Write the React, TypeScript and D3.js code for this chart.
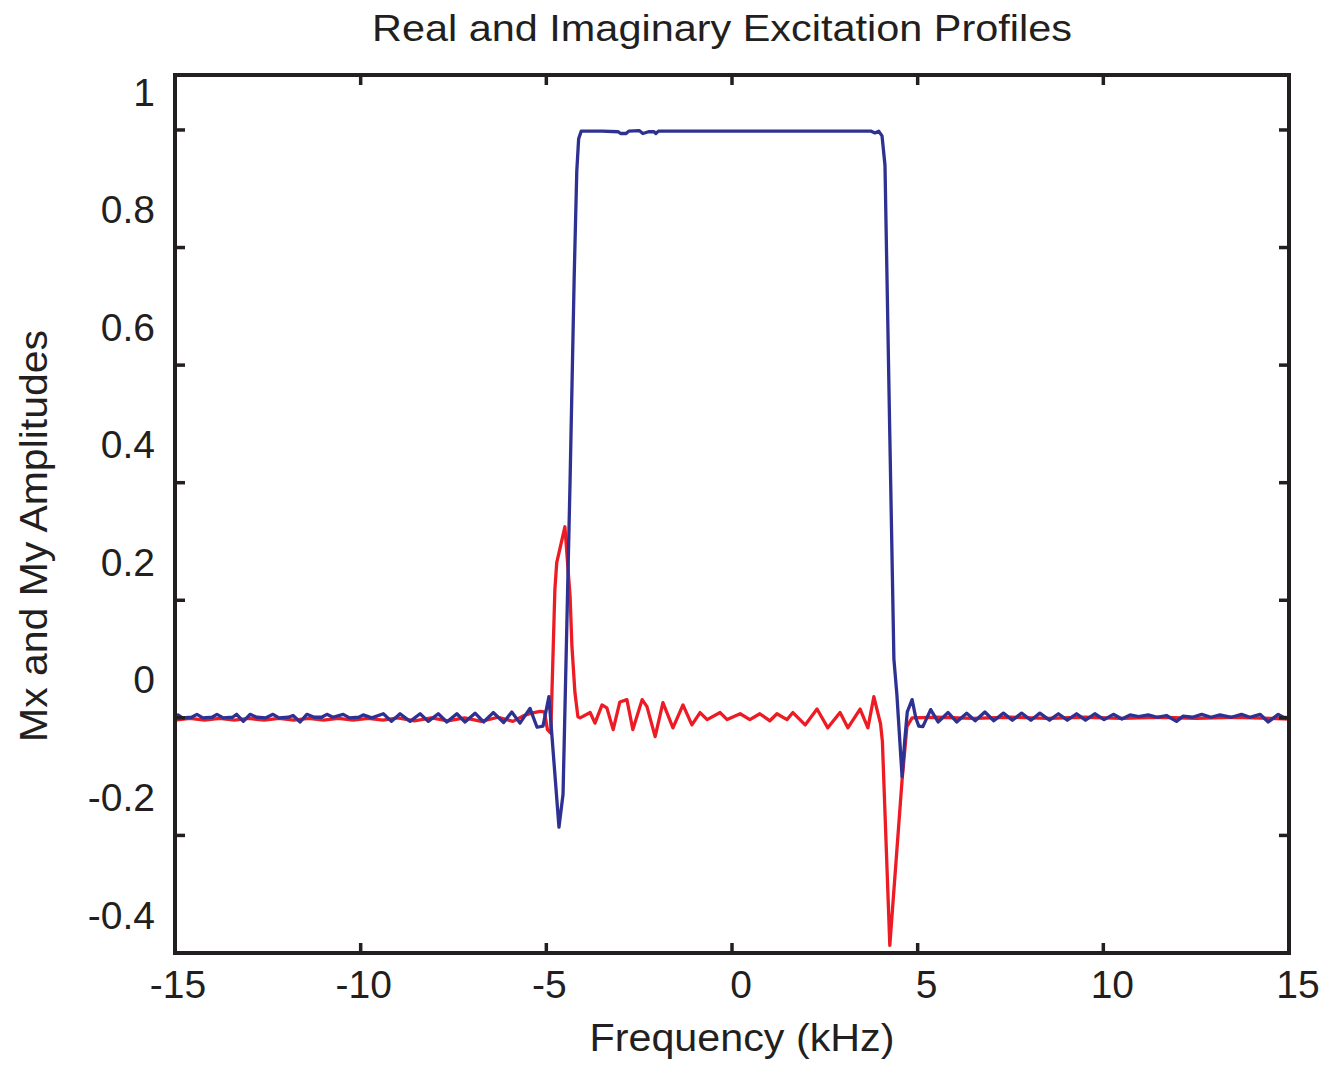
import React from 'react';
import * as d3 from 'd3';

// frequency axis (kHz) and amplitude axis tick values
const xTicks = [-15, -10, -5, 0, 5, 10, 15];
const yTicks = [-0.4, -0.2, 0, 0.2, 0.4, 0.6, 0.8, 1];

// blue trace: real part (Mx), [frequency kHz, amplitude]
const realProfile: [number, number][] = [
  [-15.0, 0.002], [-14.92, 0.005], [-14.8, 0.0], [-14.55, 0.001], [-14.41, 0.006],
  [-14.25, 0.0], [-14.0, 0.001], [-13.87, 0.006], [-13.7, 0.0], [-13.45, 0.001],
  [-13.34, 0.006], [-13.16, -0.006], [-12.98, 0.006], [-12.8, 0.001], [-12.55, 0.0],
  [-12.36, 0.006], [-12.2, 0.0], [-11.95, 0.001], [-11.82, 0.004], [-11.63, -0.007],
  [-11.45, 0.006], [-11.25, 0.001], [-11.05, 0.001], [-10.91, 0.006], [-10.75, 0.001],
  [-10.47, 0.006], [-10.3, 0.0], [-10.05, 0.001], [-9.93, 0.005], [-9.7, 0.0],
  [-9.39, 0.007], [-9.17, -0.006], [-8.94, 0.007], [-8.67, -0.006], [-8.4, 0.007],
  [-8.18, -0.006], [-7.91, 0.007], [-7.68, -0.007], [-7.41, 0.007], [-7.19, -0.007],
  [-6.92, 0.008], [-6.69, -0.007], [-6.43, 0.009], [-6.15, -0.008], [-5.93, 0.01],
  [-5.71, -0.009], [-5.44, 0.016], [-5.25, -0.016], [-5.09, -0.014], [-4.93, 0.036],
  [-4.66, -0.186], [-4.55, -0.13], [-4.36, 0.405], [-4.25, 0.75], [-4.18, 0.93],
  [-4.13, 0.985], [-4.06, 0.998], [-3.5, 0.998], [-3.07, 0.997], [-3.0, 0.994],
  [-2.85, 0.994], [-2.78, 0.998], [-2.5, 0.999], [-2.4, 0.994], [-2.25, 0.997],
  [-2.1, 0.997], [-2.05, 0.994], [-1.98, 0.998], [3.75, 0.998], [3.85, 0.995],
  [3.95, 0.998], [4.04, 0.99], [4.12, 0.94], [4.25, 0.48], [4.36, 0.1],
  [4.44, 0.04], [4.52, -0.04], [4.58, -0.1], [4.65, -0.04], [4.72, 0.01],
  [4.85, 0.031], [4.95, 0.0], [5.03, -0.014], [5.14, -0.015], [5.35, 0.014],
  [5.55, -0.007], [5.82, 0.009], [6.05, -0.007], [6.32, 0.008], [6.55, -0.005],
  [6.81, 0.01], [7.05, -0.005], [7.31, 0.008], [7.55, -0.004], [7.8, 0.008],
  [8.05, -0.004], [8.29, 0.008], [8.55, -0.004], [8.79, 0.007], [9.03, -0.004],
  [9.28, 0.007], [9.52, -0.004], [9.77, 0.007], [10.02, -0.003], [10.27, 0.006],
  [10.5, -0.002], [10.72, 0.005], [10.95, 0.002], [11.21, 0.005], [11.45, 0.001],
  [11.7, 0.004], [11.97, -0.006], [12.15, 0.003], [12.4, 0.001], [12.65, 0.006],
  [12.9, 0.001], [13.14, 0.005], [13.45, 0.001], [13.72, 0.006], [13.95, 0.001],
  [14.22, 0.006], [14.44, -0.007], [14.71, 0.006], [14.85, 0.001], [15.0, 0.0],
];

// red trace: imaginary part (My)
const imagProfile: [number, number][] = [
  [-15.0, -0.004], [-14.6, -0.001], [-14.2, -0.004], [-13.8, -0.001], [-13.4, -0.004],
  [-13.0, -0.001], [-12.6, -0.004], [-12.2, -0.001], [-11.8, -0.004], [-11.4, -0.001],
  [-11.0, -0.004], [-10.6, -0.001], [-10.2, -0.004], [-9.8, -0.001], [-9.4, -0.004],
  [-9.0, 0.0], [-8.55, -0.005], [-8.1, 0.0], [-7.65, -0.005], [-7.2, 0.0],
  [-6.75, -0.006], [-6.3, 0.001], [-5.9, -0.006], [-5.6, 0.004], [-5.4, 0.008],
  [-5.17, 0.011], [-5.05, 0.01], [-4.97, -0.02], [-4.88, -0.026], [-4.77, 0.218],
  [-4.72, 0.264], [-4.5, 0.325], [-4.36, 0.206], [-4.31, 0.121], [-4.23, 0.043],
  [-4.15, 0.002], [-4.09, 0.0], [-3.82, 0.009], [-3.69, -0.009], [-3.5, 0.022],
  [-3.37, 0.017], [-3.2, -0.02], [-3.02, 0.027], [-2.83, 0.031], [-2.67, -0.02],
  [-2.42, 0.031], [-2.29, 0.019], [-2.07, -0.032], [-1.86, 0.026], [-1.59, -0.017],
  [-1.32, 0.022], [-1.08, -0.012], [-0.86, 0.009], [-0.67, -0.003], [-0.32, 0.009],
  [-0.13, -0.003], [0.22, 0.007], [0.48, -0.003], [0.75, 0.007], [1.02, -0.005],
  [1.21, 0.007], [1.48, -0.003], [1.64, 0.009], [1.97, -0.012], [2.29, 0.015],
  [2.58, -0.017], [2.91, 0.009], [3.12, -0.017], [3.45, 0.015], [3.66, -0.017],
  [3.82, 0.036], [3.92, 0.01], [4.0, -0.01], [4.05, -0.04], [4.25, -0.387],
  [4.58, -0.106], [4.71, -0.015], [4.85, 0.0], [5.5, 0.001], [6.5, -0.001],
  [7.5, 0.001], [8.5, -0.001], [9.5, 0.001], [10.5, -0.001], [11.5, 0.001],
  [12.5, -0.001], [13.5, 0.001], [14.5, -0.001], [15.0, -0.002],
];

const W = 1344;
const H = 1065;
const plot = { left: 175, right: 1289, top: 75, bottom: 953 };
const ink = '#231f20';
const font = '"Liberation Sans", Arial, Helvetica, sans-serif';

export default function App() {
  const x = d3.scaleLinear().domain([-15, 15]).range([plot.left, plot.right]);
  const y = d3.scaleLinear().domain([-0.4, 1.0935]).range([plot.bottom, plot.top]);

  const line = d3.line<[number, number]>()
    .x(d => x(d[0]))
    .y(d => y(d[1]));

  const tickLen = 10;
  const fmt = (v: number) => String(Math.round(v * 10) / 10);

  return (
    <div style={{ position: 'absolute', left: 0, top: 0 }}>
      <svg width={W} height={H} style={{ display: 'block', background: '#fff' }}>
        <text x={722} y={41} fontFamily={font} fontSize={36} fill={ink}
          textAnchor="middle" textLength={700} lengthAdjust="spacingAndGlyphs">
          Real and Imaginary Excitation Profiles
        </text>

        <path d={line(imagProfile) || ''} fill="none" stroke="#ed1c24" strokeWidth={3.3}
          strokeLinejoin="round" strokeLinecap="round" />
        <path d={line(realProfile) || ''} fill="none" stroke="#2e3192" strokeWidth={3.3}
          strokeLinejoin="round" strokeLinecap="round" />

        {xTicks.filter(t => t > -15 && t < 15).map(t => (
          <g key={'xt' + t} stroke={ink} strokeWidth={3.5}>
            <line x1={x(t)} x2={x(t)} y1={plot.bottom} y2={plot.bottom - tickLen} />
            <line x1={x(t)} x2={x(t)} y1={plot.top} y2={plot.top + tickLen} />
          </g>
        ))}
        {yTicks.filter(t => t > -0.4).map(t => (
          <g key={'yt' + t} stroke={ink} strokeWidth={3.5}>
            <line x1={plot.left} x2={plot.left + tickLen} y1={y(t)} y2={y(t)} />
            <line x1={plot.right} x2={plot.right - tickLen} y1={y(t)} y2={y(t)} />
          </g>
        ))}

        <rect x={plot.left} y={plot.top} width={plot.right - plot.left}
          height={plot.bottom - plot.top} fill="none" stroke={ink} strokeWidth={4} />

        {xTicks.map(t => (
          <text key={'xl' + t} x={x(t) + (t < 0 ? 3 : 9)} y={998} fontFamily={font}
            fontSize={39} fill={ink} textAnchor="middle">{fmt(t)}</text>
        ))}
        {yTicks.map(t => (
          <text key={'yl' + t} x={155} y={y(t) - 38} dy="0.35em" fontFamily={font}
            fontSize={39} fill={ink} textAnchor="end">{fmt(t)}</text>
        ))}

        <text x={742} y={1051} fontFamily={font} fontSize={38} fill={ink}
          textAnchor="middle" textLength={305} lengthAdjust="spacingAndGlyphs">
          Frequency (kHz)
        </text>
        <text transform="translate(47,536) rotate(-90)" fontFamily={font} fontSize={38}
          fill={ink} textAnchor="middle" textLength={412} lengthAdjust="spacingAndGlyphs">
          Mx and My Amplitudes
        </text>
      </svg>
    </div>
  );
}
